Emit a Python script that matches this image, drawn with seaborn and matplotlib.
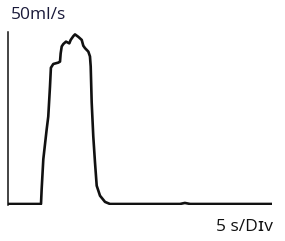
import matplotlib
matplotlib.use("Agg")
import matplotlib.pyplot as plt
import seaborn as sns
import pandas as pd
from matplotlib import font_manager as fm

time_s = [0, 5.0, 5.1, 5.35, 5.86, 6.1, 6.36, 6.5, 6.86, 7.62, 7.88, 7.98, 8.14, 8.38,
          8.79, 9.29, 9.5, 9.9, 10.15, 10.65, 11.17, 11.41, 11.67, 12.17, 12.42, 12.53,
          12.68, 12.92, 13.18, 13.44, 13.94, 14.7, 15.45, 21.5, 26.06, 26.8, 27.6, 40]
flow_mls = [0, 0, 4.3, 13.0, 21.7, 25.4, 34.1, 39.6, 40.7, 41.1, 41.4, 43.8, 45.8, 46.5,
            47.2, 46.7, 47.7, 48.8, 49.3, 48.6, 47.7, 46.0, 45.3, 44.3, 42.9, 40.0,
            29.5, 19.7, 12.1, 5.3, 2.4, 0.6, 0, 0, 0, 0.3, 0, 0]
y_label = "50ml/s"
x_label = "5 s/D\u026av"

sns.set_theme(style="white")
plt.rcParams['font.family'] = ['Open Sans', 'DejaVu Sans']

df = pd.DataFrame({"t": time_s, "flow": flow_mls})
fig = plt.figure(figsize=(2.85, 2.41), dpi=100)
ax = fig.add_axes([8/285, 36/241, 264/285, 173/241])
sns.lineplot(data=df, x="t", y="flow", ax=ax, color="#111111", linewidth=1.9,
             sort=False, estimator=None)
ax.set_xlim(0, 40)
ax.set_ylim(-0.3, 50)
ax.set_xlabel("")
ax.set_ylabel("")
ax.set_xticks([])
ax.set_yticks([])
for s in ["top", "right", "bottom"]:
    ax.spines[s].set_visible(False)
ax.spines["left"].set_color("#111111")
ax.spines["left"].set_linewidth(1.1)
ax.patch.set_alpha(0)

fig.text(11/285, 1 - 15/241, y_label, fontsize=12.5, color="#1a1a3a", va="center", ha="left")
fig.text(273/285, 1 - 227/241, x_label, fontsize=12.5, color="#111111", va="center", ha="right")

fig.savefig("out.png", dpi=100)
